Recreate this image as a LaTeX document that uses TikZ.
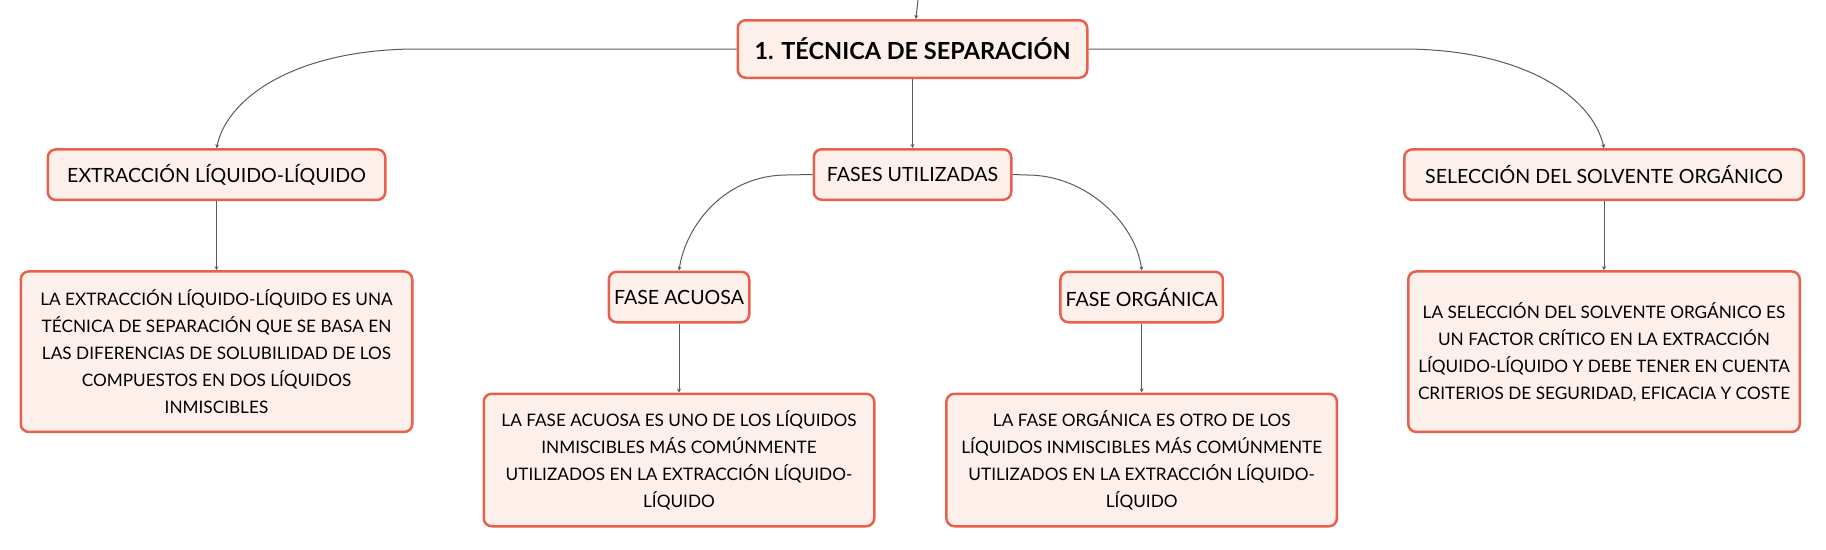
\documentclass[tikz,border=0pt]{standalone}
\usepackage{fontspec}
\setmainfont{Lato}
\usepackage{xcolor}
\usepackage{tikz}
\usetikzlibrary{positioning,arrows.meta}

\definecolor{boxred}{HTML}{E8604C}
\definecolor{boxfill}{HTML}{FDF0EB}
\definecolor{linegray}{HTML}{5A5A5A}

\tikzset{
  topic/.style={draw=boxred, fill=boxfill, line width=2.5pt, rounded corners=8pt, align=center, inner sep=0pt},
  maintopic/.style={topic, font=\bfseries\fontsize{23.5}{28}\selectfont, minimum width=349.5pt, minimum height=57.5pt},
  subtopic/.style={topic, font=\fontsize{19.6}{23}\selectfont, minimum height=50.5pt},
  detail/.style={topic, font=\fontsize{17.2}{27}\selectfont},
  link/.style={draw=linegray, line width=1pt, -{Stealth[length=4pt,width=4pt]}},
}

\begin{document}
\begin{tikzpicture}[x=1pt, y=1pt, node distance=69pt]
    \useasboundingbox (0,0) rectangle (1826,-549);

    \node [maintopic] (main) at (912.5,-49) {1. TÉCNICA DE SEPARACIÓN};
    \coordinate (up) at (918,0);

    \node [subtopic, minimum width=337.5pt] (extr) at (216.5,-174.7) {EXTRACCIÓN LÍQUIDO-LÍQUIDO};
    \node [subtopic, minimum width=197.5pt, below=of main] (fases) {FASES UTILIZADAS};
    \node [subtopic, minimum width=399.5pt] (selec) at (1604,-174.7) {SELECCIÓN DEL SOLVENTE ORGÁNICO};

    \node [detail, minimum width=391.5pt, minimum height=160.5pt, below=of extr] (extrtxt)
        {LA EXTRACCIÓN LÍQUIDO-LÍQUIDO ES UNA\\TÉCNICA DE SEPARACIÓN QUE SE BASA EN\\LAS DIFERENCIAS DE SOLUBILIDAD DE LOS\\COMPUESTOS EN DOS LÍQUIDOS\\INMISCIBLES};
    \node [detail, minimum width=391.5pt, minimum height=160.5pt, below=of selec] (selectxt)
        {LA SELECCIÓN DEL SOLVENTE ORGÁNICO ES\\UN FACTOR CRÍTICO EN LA EXTRACCIÓN\\LÍQUIDO-LÍQUIDO Y DEBE TENER EN CUENTA\\CRITERIOS DE SEGURIDAD, EFICACIA Y COSTE};

    \node [subtopic, minimum width=140.5pt] (acuosa) at (679,-297) {FASE ACUOSA};
    \node [subtopic, minimum width=162.5pt] (organica) at (1141.7,-297) {FASE ORGÁNICA};

    \node [detail, minimum width=390.5pt, minimum height=132.5pt, below=of acuosa] (acuosatxt)
        {LA FASE ACUOSA ES UNO DE LOS LÍQUIDOS\\INMISCIBLES MÁS COMÚNMENTE\\UTILIZADOS EN LA EXTRACCIÓN LÍQUIDO-\\LÍQUIDO};
    \node [detail, minimum width=390.5pt, minimum height=132.5pt, below=of organica] (organicatxt)
        {LA FASE ORGÁNICA ES OTRO DE LOS\\LÍQUIDOS INMISCIBLES MÁS COMÚNMENTE\\UTILIZADOS EN LA EXTRACCIÓN LÍQUIDO-\\LÍQUIDO};

    \draw [link] (up) -- (main);
    \draw [link] (main.west) -- (417,-49) .. controls (300,-49) and (228,-95) .. (extr.north);
    \draw [link] (main.east) -- (1403,-49) .. controls (1520,-49) and (1592,-95) .. (selec.north);
    \draw [link] (main) -- (fases);
    \draw [link] (fases.west) -- (786.7,-175) .. controls (725,-175) and (686,-225) .. (acuosa.north);
    \draw [link] (fases.east) -- (1027,-175) .. controls (1088,-175) and (1136,-225) .. (organica.north);

    \draw [link] (extr) -- (extrtxt);
    \draw [link] (selec) -- (selectxt);
    \draw [link] (acuosa) -- (acuosatxt);
    \draw [link] (organica) -- (organicatxt);
\end{tikzpicture}
\end{document}
